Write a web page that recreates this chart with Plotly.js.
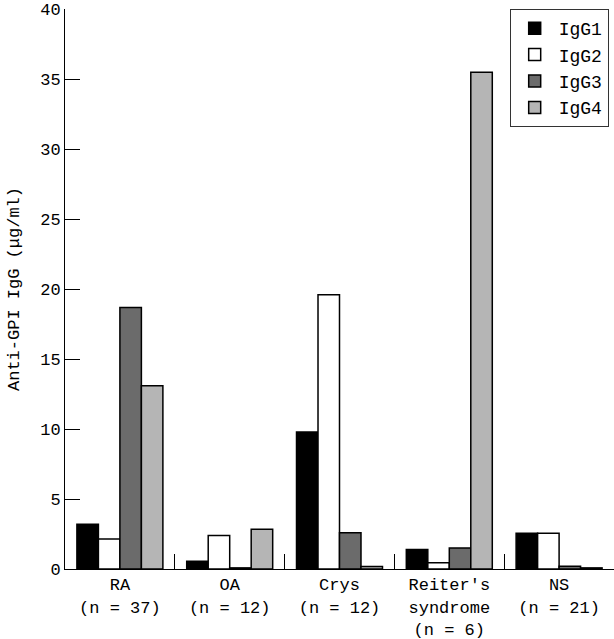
<!DOCTYPE html>
<html>
<head>
<meta charset="utf-8">
<script src="https://cdn.plot.ly/plotly-3.0.1.min.js"></script>
<style>html,body{margin:0;padding:0;background:#fff;}#chart{width:614px;height:639px;}</style>
</head>
<body>
<div id="chart"></div>
<script>
const categories = ["RA<br>(n = 37)", "OA<br>(n = 12)", "Crys<br>(n = 12)", "Reiter's<br>syndrome<br>(n = 6)", "NS<br>(n = 21)"];
const seriesNames = ["IgG1", "IgG2", "IgG3", "IgG4"];
const igg1 = [3.2, 0.55, 9.8, 1.4, 2.55];
const igg2 = [2.15, 2.4, 19.6, 0.45, 2.55];
const igg3 = [18.7, 0.08, 2.6, 1.5, 0.2];
const igg4 = [13.1, 2.85, 0.18, 35.5, 0.08];
const yTicks = [0, 5, 10, 15, 20, 25, 30, 35, 40];

const colors = ["#000000", "#ffffff", "#6b6b6b", "#b5b5b5"];
const values = [igg1, igg2, igg3, igg4];
const font = "'Liberation Mono', 'Courier New', monospace";

const data = seriesNames.map((name, i) => ({
  type: "bar",
  name: name,
  x: categories,
  y: values[i],
  marker: {color: colors[i], line: {color: "#000", width: 1.5}},
  hoverinfo: "none"
}));

const layout = {
  width: 614, height: 639,
  margin: {l: 65, r: 0, t: 9, b: 70},
  paper_bgcolor: "#fff", plot_bgcolor: "#fff",
  font: {family: font, size: 17, color: "#000"},
  barmode: "group", bargap: 0.217, bargroupgap: 0,
  showlegend: true,
  legend: {x: 0.81, y: 1.0, xanchor: "left", yanchor: "top",
           bordercolor: "#333", borderwidth: 1, bgcolor: "#fff",
           font: {family: font, size: 18}, itemwidth: 38},
  xaxis: {
    type: "category", range: [-0.5, 4.5],
    showline: true, linecolor: "#000", linewidth: 1,
    ticks: "inside", tickson: "boundaries", ticklen: 15, tickcolor: "#000",
    tickfont: {family: font, size: 17}, showgrid: false, zeroline: false
  },
  yaxis: {
    range: [0, 40.03], tickvals: yTicks, ticktext: yTicks.map(String),
    showline: true, linecolor: "#000", linewidth: 1,
    ticks: "inside", ticklen: 15, tickcolor: "#000",
    tickfont: {family: font, size: 17}, showgrid: false, zeroline: false,
    ticklabeloverflow: "allow",
    title: {text: "Anti-GPI IgG (μg/ml)", font: {family: font, size: 17}, standoff: 16}
  }
};

Plotly.newPlot("chart", data, layout, {displayModeBar: false, staticPlot: true}).then(function () {
  // make sure the top tick label is visible (it can be culled at the plot edge)
  document.querySelectorAll('.ytick text').forEach(function (t) { t.style.display = ''; t.removeAttribute('display'); });
});
</script>
</body>
</html>
